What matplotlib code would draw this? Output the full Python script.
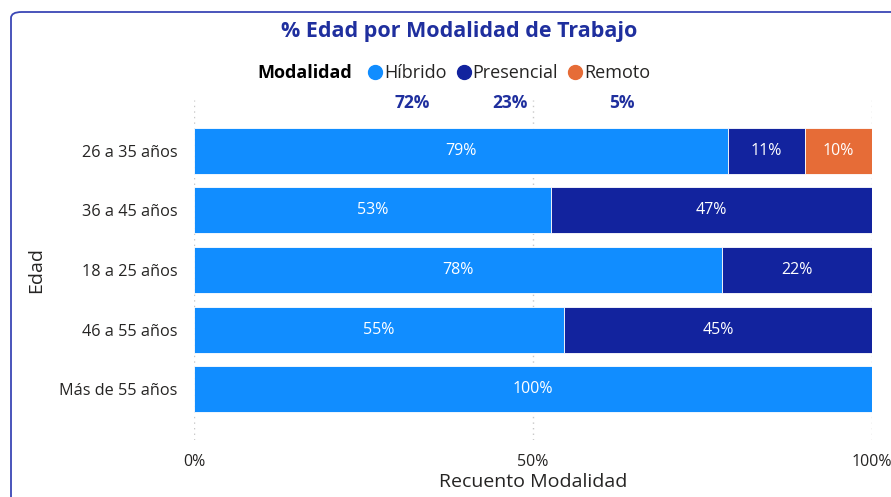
import numpy as np
import matplotlib
matplotlib.use('Agg')
import matplotlib.pyplot as plt
from matplotlib.patches import FancyBboxPatch
from matplotlib.lines import Line2D

plt.rcParams['font.family'] = ['Open Sans', 'DejaVu Sans']

# data (% per age group)
edades = ['26 a 35 años', '36 a 45 años', '18 a 25 años', '46 a 55 años', 'Más de 55 años']
hibrido = [78.8, 52.7, 77.9, 54.6, 100.0]
presencial = [11.3, 47.3, 22.1, 45.4, 0.0]
remoto = [9.9, 0.0, 0.0, 0.0, 0.0]
modalidades = ['Híbrido', 'Presencial', 'Remoto']
totales = ['72%', '23%', '5%']
colores = ['#118DFF', '#12239E', '#E66C37']

fig = plt.figure(figsize=(8.91, 4.97), dpi=100)
ax = fig.add_axes([194 / 891, 1 - 440 / 497, 678 / 891, 340 / 497])

y = np.arange(len(edades))
left = np.zeros(len(edades))
for serie, color in zip([hibrido, presencial, remoto], colores):
    vals = np.array(serie)
    ax.barh(y, vals, left=left, height=0.77, color=color, edgecolor='white', linewidth=0.6, zorder=2)
    for yi, l, v in zip(y, left, vals):
        if v > 0:
            ax.text(l + v / 2, yi, f'{v:.0f}%', ha='center', va='center', color='white', fontsize=11.5, zorder=3)
    left = left + vals

ax.set_xlim(0, 100)
ax.set_ylim(len(edades) - 0.15, -0.85)
ax.set_yticks(y)
ax.set_yticklabels(edades, fontsize=11.7, color='#252423')
ax.set_xticks([0, 50, 100])
ax.set_xticklabels(['0%', '50%', '100%'], fontsize=11.5, color='#252423')
ax.tick_params(length=0, pad=12)
ax.tick_params(axis='x', pad=10)
ax.grid(axis='x', color='#c8c8c8', linestyle=(0, (1, 3)), linewidth=1, zorder=0)
for s in ax.spines.values():
    s.set_visible(False)
ax.set_xlabel('Recuento Modalidad', fontsize=14, color='#252423', labelpad=2)
ax.set_ylabel('Edad', fontsize=14, color='#252423', labelpad=10)

fig.text(0.515, 1 - 32 / 497, '% Edad por Modalidad de Trabajo', ha='center', va='center',
         fontsize=15.5, fontweight='bold', color='#1F2F9E')

# legend row
fig.text(257 / 891, 1 - 73 / 497, 'Modalidad', ha='left', va='center', fontsize=13,
         fontweight='bold', color='#000000')
handles = [Line2D([], [], marker='o', linestyle='none', markersize=10, color=c) for c in colores]
leg = fig.legend(handles, modalidades, loc='center left', bbox_to_anchor=(366 / 891, 1 - 73 / 497),
                 ncol=3, frameon=False, handletextpad=0.0, columnspacing=0.45, handlelength=1.0,
                 borderaxespad=0, borderpad=0, prop={'size': 13})
for t in leg.get_texts():
    t.set_color('#252423')

for xp, t in zip([412, 510, 622], totales):
    fig.text(xp / 891, 1 - 103 / 497, t, ha='center', va='center', fontsize=12.5,
             fontweight='bold', color='#1F2F9E')

border = FancyBboxPatch((11 / 891, -0.1), 1.2, 1.1 - 12 / 497, transform=fig.transFigure,
                        boxstyle='round,pad=0,rounding_size=0.012', facecolor='none',
                        edgecolor='#3A47B5', linewidth=1.3)
fig.patches.append(border)

fig.savefig('out.png', dpi=100)
